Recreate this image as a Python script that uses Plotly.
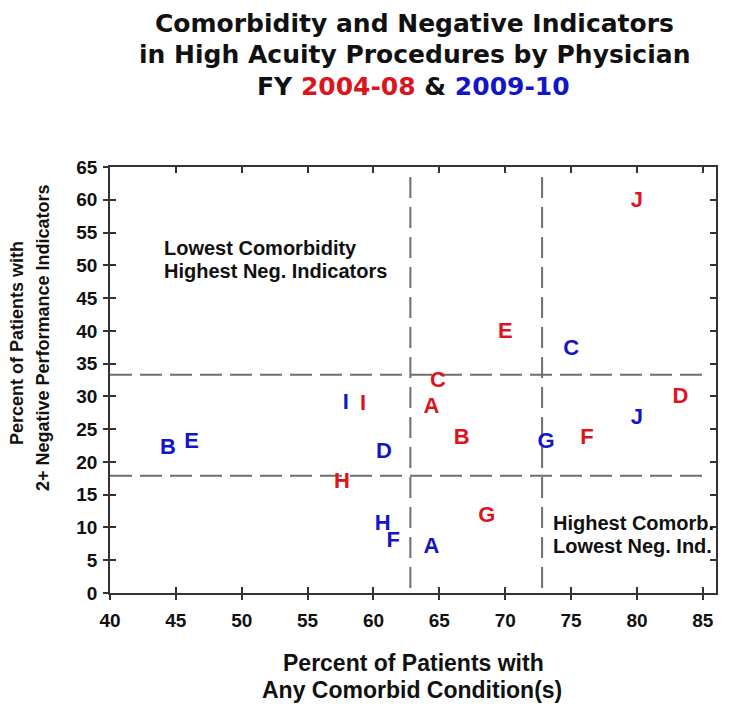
import plotly.graph_objects as go

# Data: physicians, FY 2004-08 (red) and FY 2009-10 (blue)
labels_0408 = ["J", "E", "C", "A", "B", "G", "F", "D", "I", "H"]
comorb_0408 = [80.0, 70.0, 64.9, 64.4, 66.7, 68.6, 76.2, 83.3, 59.2, 57.6]
negind_0408 = [59.7, 39.7, 32.2, 28.3, 23.6, 11.6, 23.6, 29.8, 28.7, 16.9]

labels_0910 = ["C", "J", "G", "A", "I", "B", "E", "D", "H", "F"]
comorb_0910 = [75.0, 80.0, 73.1, 64.4, 57.9, 44.4, 46.2, 60.8, 60.7, 61.5]
negind_0910 = [37.2, 26.6, 23.0, 7.0, 28.9, 22.1, 22.9, 21.5, 10.5, 7.8]

# Quadrant reference lines
vlines = [62.8, 72.8]
hlines = [33.3, 17.9]

x_ticks = [40, 45, 50, 55, 60, 65, 70, 75, 80, 85]
y_ticks = [0, 5, 10, 15, 20, 25, 30, 35, 40, 45, 50, 55, 60, 65]

RED = "#dc141e"
BLUE = "#1414c8"
SANS = "Liberation Sans, Arial, sans-serif"
WIDE = "DejaVu Sans, Liberation Sans, Arial, sans-serif"
INK = "#111111"

# page (screenshot) geometry of the plot frame
PL, PR, PT, PB = 110, 716, 167, 593
OFF = 8  # default body margin of the html page


def px(xp):
    return (xp - PL) / (PR - PL)


def py(yp):
    return (PB - yp) / (PB - PT)


fig = go.Figure()
fig.add_trace(go.Scatter(x=comorb_0408, y=negind_0408, mode="text", text=labels_0408,
                         textfont=dict(family=SANS, size=22, color=RED, weight="bold"),
                         textposition="middle center", showlegend=False, hoverinfo="skip"))
fig.add_trace(go.Scatter(x=comorb_0910, y=negind_0910, mode="text", text=labels_0910,
                         textfont=dict(family=SANS, size=22, color=BLUE, weight="bold"),
                         textposition="middle center", showlegend=False, hoverinfo="skip"))
# invisible trace anchoring the overlay axes that carry the outside half of the ticks
fig.add_trace(go.Scatter(x=[None], y=[None], xaxis="x2", yaxis="y2", showlegend=False,
                         hoverinfo="skip"))

for v in vlines:
    fig.add_shape(type="line", xref="x", yref="paper", x0=v, x1=v, y0=py(PT + 10), y1=0,
                  line=dict(color="#6e6e6e", width=2, dash="21px,9px"), layer="below")
for h in hlines:
    fig.add_shape(type="line", xref="paper", yref="y", x0=0, x1=px(706), y0=h, y1=h,
                  line=dict(color="#6e6e6e", width=2, dash="22px,8px"), layer="below")

axis_common = dict(showgrid=False, zeroline=False, showline=True, linecolor="#333333",
                   linewidth=1.5, ticks="inside", ticklen=6, tickwidth=1.5,
                   tickcolor="#333333", mirror="ticks")

W, H = 750 - OFF, 704 - OFF
fig.update_layout(
    width=W, height=H,
    margin=dict(l=PL - OFF, r=W - (PR - OFF), t=PT - OFF, b=H - (PB - OFF)),
    paper_bgcolor="white", plot_bgcolor="white",
    xaxis=dict(range=[40, 86], tickvals=x_ticks, ticktext=[str(t) for t in x_ticks],
               tickfont=dict(family=SANS, size=19, color=INK, weight="bold"),
               ticklabelstandoff=9, **axis_common),
    yaxis=dict(range=[0, 65], tickvals=y_ticks, ticktext=[str(t) for t in y_ticks],
               tickfont=dict(family=SANS, size=19, color=INK, weight="bold"),
               ticklabelstandoff=7, **axis_common),
    xaxis2=dict(overlaying="x", range=[40, 86], tickvals=x_ticks, ticks="outside",
                ticklen=6, tickwidth=1.5, tickcolor="#333333", showticklabels=False,
                showgrid=False, zeroline=False, showline=False, side="bottom"),
    yaxis2=dict(overlaying="y", range=[0, 65], tickvals=y_ticks, ticks="outside",
                ticklen=6, tickwidth=1.5, tickcolor="#333333", showticklabels=False,
                showgrid=False, zeroline=False, showline=False, side="left"),
    showlegend=False,
)


def note(text, xp, yp, size, anchor="center", angle=0, family=SANS):
    return dict(text=text, xref="paper", yref="paper", x=px(xp), y=py(yp),
                xanchor=anchor, yanchor="middle", align="left" if anchor == "left" else "center",
                showarrow=False, textangle=angle, borderpad=0,
                font=dict(family=family, size=size, color=INK))


annotations = [
    note("<b>Comorbidity and Negative Indicators</b>", 414, 24, 25, family=WIDE),
    note("<b>in High Acuity Procedures by Physician</b>", 414, 55, 25, family=WIDE),
    note("<b>FY <span style='color:%s'>2004-08</span> &amp; "
         "<span style='color:%s'>2009-10</span></b>" % (RED, BLUE), 413, 86, 25, family=WIDE),
    note("<b>Percent of Patients with</b>", 413, 663, 23),
    note("<b>Any Comorbid Condition(s)</b>", 412, 690, 23),
    note("<b>Percent of Patients with</b>", 17, 343, 18, angle=-90),
    note("<b>2+ Negative Performance Indicators</b>", 43, 338, 18, angle=-90),
    note("<b>Lowest Comorbidity</b>", 163, 248, 20, anchor="left"),
    note("<b>Highest Neg. Indicators</b>", 163, 271, 20, anchor="left"),
    note("<b>Highest Comorb.</b>", 552, 523, 20, anchor="left"),
    note("<b>Lowest Neg. Ind.</b>", 552, 546, 20, anchor="left"),
]
fig.update_layout(annotations=annotations)

fig.write_html("out.html")
